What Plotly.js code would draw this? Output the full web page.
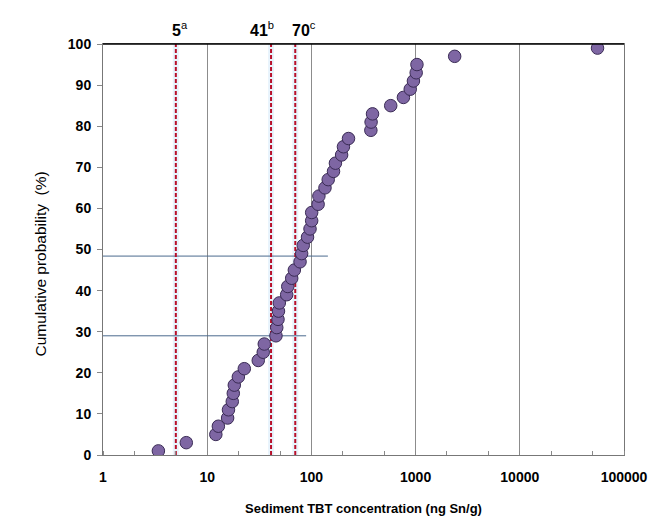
<!DOCTYPE html>
<html>
<head>
<meta charset="utf-8">
<script src="https://cdn.plot.ly/plotly-3.0.1.min.js"></script>
<style>html,body{margin:0;padding:0;background:#fff;}#chart{width:656px;height:530px;}</style>
</head>
<body>
<div id="chart"></div>
<script>
// Sediment TBT concentration (ng Sn/g), sorted
var concentration = [3.4, 6.3, 12.1, 12.8, 15.7, 16.0, 17.4, 17.8, 18.2, 19.9,
  22.7, 30.9, 34.5, 35.3, 45.7, 46.5, 47.8, 48.3, 49.2, 57.9,
  59.3, 64.7, 68.6, 77.8, 80.6, 83.5, 91.8, 97.0, 100.6, 100.6,
  116, 118, 135, 145, 163, 170, 195, 203, 227, 372,
  374, 386, 577, 764, 888, 953, 1013, 1030, 2371, 55700];
// Cumulative probability (%)
var probability = [1, 3, 5, 7, 9, 11, 13, 15, 17, 19,
  21, 23, 25, 27, 29, 31, 33, 35, 37, 39,
  41, 43, 45, 47, 49, 51, 53, 55, 57, 59,
  61, 63, 65, 67, 69, 71, 73, 75, 77, 79,
  81, 83, 85, 87, 89, 91, 93, 95, 97, 99];
// Guideline values
var thresholds = [5, 41, 70];
var thresholdLabels = ['5', '41', '70'];
var thresholdNotes = ['a', 'b', 'c'];
var labelShift = [4, -9, 9];
var refProb = [29, 48.4];
var refEnd = [89, 144];
var fitX = [41, 80];
var fitY = [29, 48.4];
var xTicks = [1, 10, 100, 1000, 10000, 100000];
var xTickText = ['1', '10', '100', '1000', '10000', '100000'];

var FONT = 'Liberation Sans, Arial, sans-serif';
var traces = [];
// faint light-blue halo beside each threshold line
for (var h = 0; h < thresholds.length; h++) {
  traces.push({x: [thresholds[h], thresholds[h]], y: [0, 100], mode: 'lines',
    line: {color: 'rgba(205,228,248,0.45)', width: 6}, hoverinfo: 'skip', showlegend: false});
}
// horizontal reference lines
for (var i = 0; i < refProb.length; i++) {
  traces.push({x: [1, refEnd[i]], y: [refProb[i], refProb[i]], mode: 'lines',
    line: {color: '#4A6A8E', width: 1}, hoverinfo: 'skip', showlegend: false});
}
// threshold dashed lines
for (var j = 0; j < thresholds.length; j++) {
  traces.push({x: [thresholds[j], thresholds[j]], y: [0, 100], mode: 'lines',
    line: {color: '#B8102A', width: 2, dash: '4px,2px'}, hoverinfo: 'skip', showlegend: false});
}
// red fit segment
traces.push({x: fitX, y: fitY, mode: 'lines', line: {color: '#D81E2E', width: 2},
  hoverinfo: 'skip', showlegend: false});
// data points
traces.push({x: concentration, y: probability, mode: 'markers', showlegend: false,
  marker: {size: 12.5, color: '#7E66A3', line: {color: '#3A2B55', width: 1}}});

var annotations = thresholds.map(function (t, k) {
  return {x: Math.log10(t), xref: 'x', y: 1, yref: 'paper', yanchor: 'bottom', yshift: 3,
    xshift: labelShift[k], showarrow: false,
    text: '<b>' + thresholdLabels[k] + '</b><sup>' + thresholdNotes[k] + '</sup>',
    font: {family: FONT, size: 16, color: '#000'}};
});
annotations.push({x: 0, xref: 'paper', xanchor: 'center', xshift: -63,
  y: 0.5, yref: 'paper', yanchor: 'middle', yshift: -15, textangle: -90, showarrow: false,
  text: 'Cumulative probability&nbsp;&nbsp;(%)', font: {family: FONT, size: 15.5, color: '#000'}});

var layout = {
  width: 656, height: 530,
  margin: {l: 103, r: 32, t: 44, b: 75},
  paper_bgcolor: '#fff', plot_bgcolor: '#fff',
  font: {family: FONT, color: '#000'},
  xaxis: {
    type: 'log', range: [0, 5], tickvals: xTicks, ticktext: xTickText,
    showgrid: true, gridcolor: '#8C8C8C', gridwidth: 1,
    showline: true, linecolor: '#777', linewidth: 1, mirror: true,
    ticks: '', ticklabelstandoff: 9,
    tickfont: {size: 14, family: FONT, weight: 'bold'},
    minor: {ticks: 'inside', ticklen: 4, tickcolor: '#888', showgrid: false},
    zeroline: false,
    title: {text: '<b>Sediment TBT concentration (ng Sn/g)</b>', standoff: 20,
      font: {size: 13, family: FONT}}
  },
  yaxis: {
    range: [0, 100], dtick: 10, showgrid: false,
    showline: true, linecolor: '#777', linewidth: 1, mirror: true,
    ticks: 'outside', ticklen: 5, tickcolor: '#888', ticklabelstandoff: 3,
    tickfont: {size: 14, family: FONT, weight: 'bold'},
    zeroline: false
  },
  annotations: annotations,
  shapes: [{type: 'line', xref: 'paper', yref: 'paper', x0: 0, x1: 1, y0: 1, y1: 1,
    line: {color: '#000', width: 1.5}}]
};

Plotly.newPlot('chart', traces, layout, {displayModeBar: false, staticPlot: true});
</script>
</body>
</html>
